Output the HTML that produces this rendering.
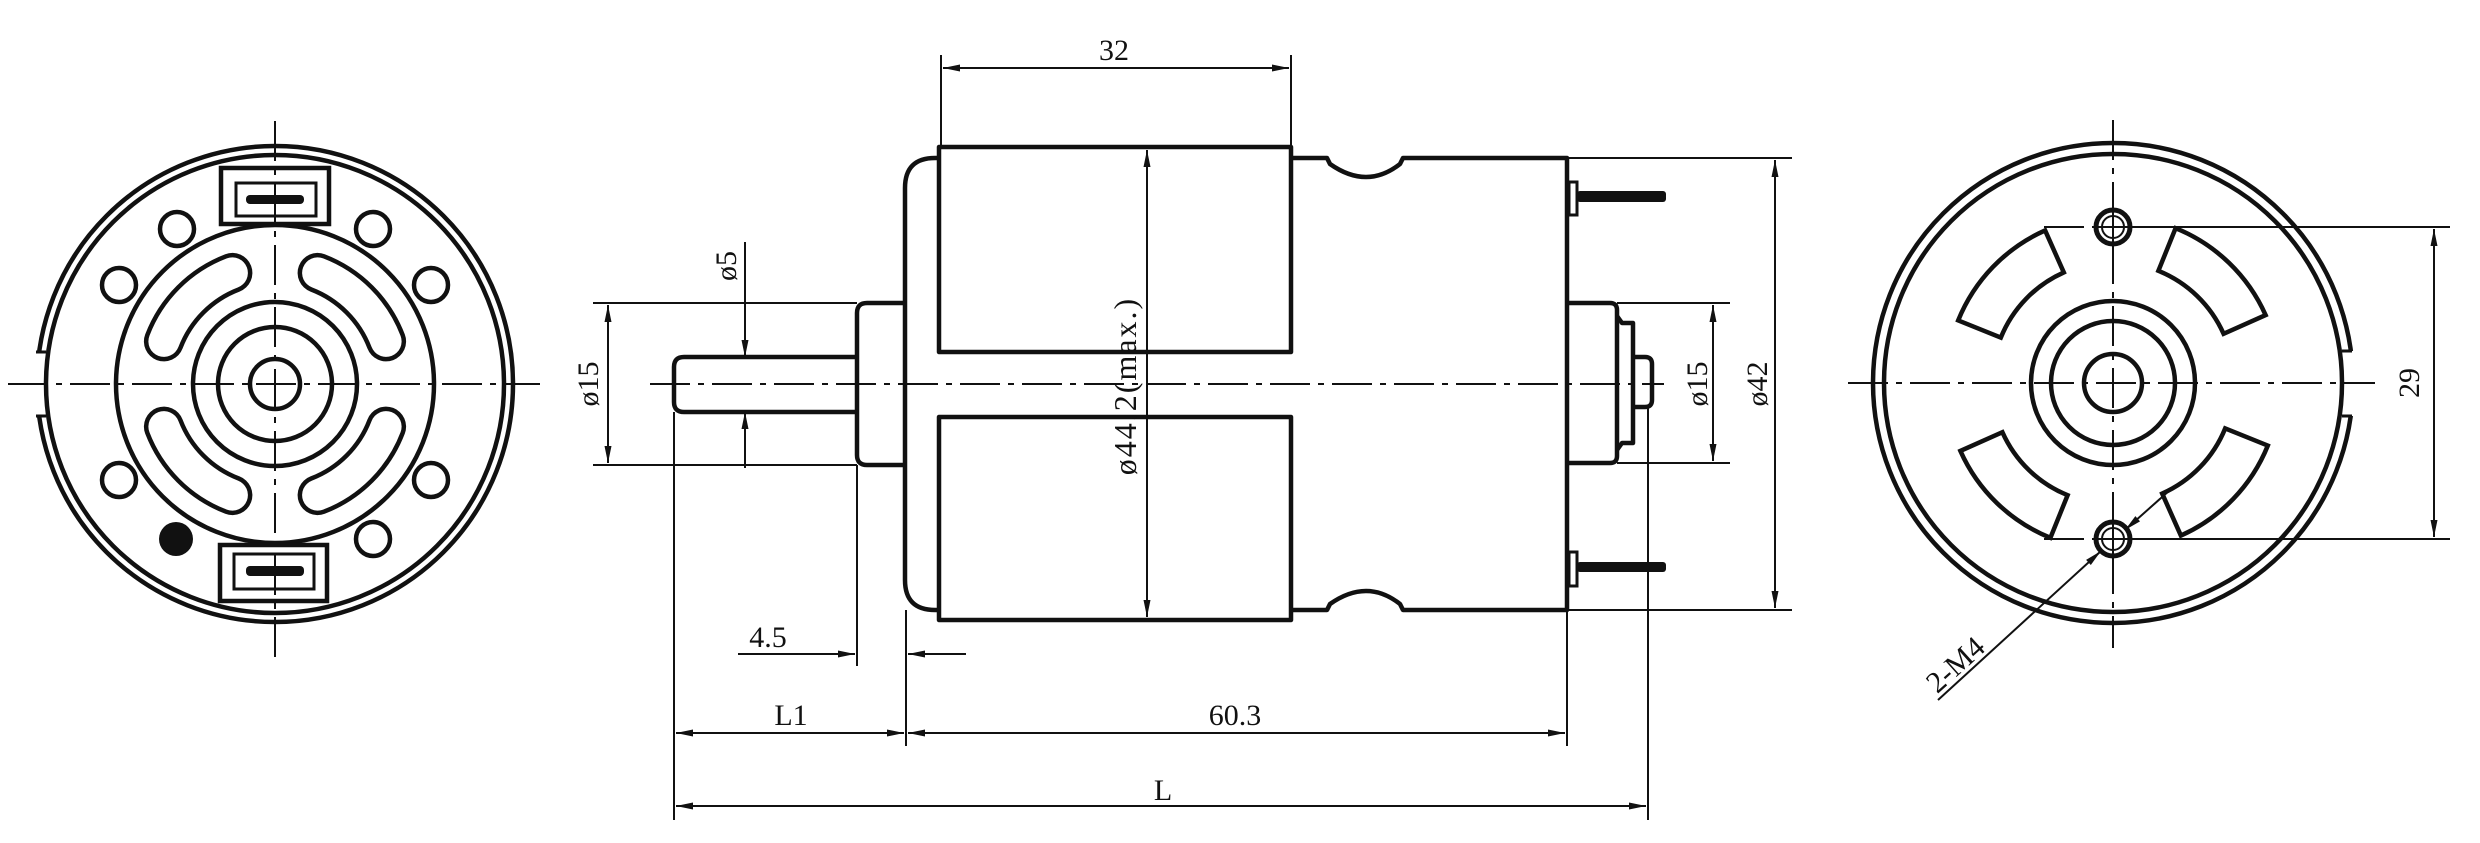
<!DOCTYPE html>
<html><head><meta charset="utf-8"><style>
html,body{margin:0;padding:0;background:#fff;}
svg{display:block;}
text{font-family:"Liberation Serif",serif;font-size:30px;fill:#111;}
</style></head><body>
<svg width="2480" height="843" viewBox="0 0 2480 843" xmlns="http://www.w3.org/2000/svg">
<defs>
<marker id="a" markerUnits="userSpaceOnUse" markerWidth="20" markerHeight="10" refX="0" refY="0" viewBox="-18 -5 20 10" orient="auto-start-reverse" overflow="visible">
<path d="M0,0 L-17,-3.5 L-17,3.5 Z" fill="#111"/>
</marker>
</defs>
<rect width="2480" height="843" fill="#fff"/>

<!-- ============ LEFT VIEW ============ -->
<g fill="none" stroke="#111" stroke-width="4.5">
<circle cx="275" cy="384" r="238"/>
<circle cx="275" cy="384" r="229"/>
</g>
<rect x="30" y="352" width="12" height="64" fill="#fff"/>
<g stroke="#111" stroke-width="3"><line x1="36" y1="352" x2="46" y2="352"/><line x1="36" y1="416" x2="46" y2="416"/></g>
<g fill="none" stroke="#111" stroke-width="4.5">
<circle cx="275" cy="384" r="159"/>
<circle cx="275" cy="384" r="82"/>
<circle cx="275" cy="384" r="57"/>
<circle cx="275" cy="384" r="25"/>
<circle cx="177" cy="229" r="17"/><circle cx="373" cy="229" r="17"/>
<circle cx="119" cy="285" r="17"/><circle cx="431" cy="285" r="17"/>
<circle cx="119" cy="480" r="17"/><circle cx="431" cy="480" r="17"/>
<circle cx="373" cy="539" r="17"/>
</g>
<circle cx="176" cy="539" r="17" fill="#111"/>
<g transform="translate(275,384)">
 <g id="slot">
 <path d="M-111.1,-42.6 A119,119 0 0 1 -42.6,-111.1" fill="none" stroke="#111" stroke-width="40" stroke-linecap="round"/>
 <path d="M-111.1,-42.6 A119,119 0 0 1 -42.6,-111.1" fill="none" stroke="#fff" stroke-width="31" stroke-linecap="round"/>
 </g>
 <use href="#slot" transform="rotate(90)"/>
 <use href="#slot" transform="rotate(180)"/>
 <use href="#slot" transform="rotate(270)"/>
</g>
<rect x="221" y="168" width="108" height="56" fill="#fff" stroke="#111" stroke-width="4.5"/>
<rect x="236" y="183" width="80" height="33" fill="none" stroke="#111" stroke-width="3"/>
<rect x="246" y="195" width="58" height="9" rx="4" fill="#111"/>
<rect x="220" y="545" width="107" height="56" fill="#fff" stroke="#111" stroke-width="4.5"/>
<rect x="234" y="554" width="80" height="35" fill="none" stroke="#111" stroke-width="3"/>
<rect x="246" y="566" width="58" height="10" rx="4" fill="#111"/>
<g stroke="#111" stroke-width="2" stroke-dasharray="40 8 6 8">
<line x1="8" y1="384" x2="540" y2="384"/>
<line x1="275" y1="121" x2="275" y2="657"/>
</g>

<!-- ============ MIDDLE VIEW ============ -->
<g fill="none" stroke="#111" stroke-width="4.5" stroke-linejoin="round">
<path d="M857,357 L684,357 Q674,357 674,367 L674,402 Q674,412 684,412 L857,412"/>
<path d="M906,303 L867,303 Q857,303 857,313 L857,455 Q857,465 867,465 L906,465"/>
<path d="M939,158 L935,158 Q905,158 905,188 L905,580 Q905,610 935,610 L939,610"/>
<rect x="939" y="147" width="352" height="205"/>
<rect x="939" y="417" width="352" height="203"/>
<path d="M1291,158 L1327,158 L1330,164 Q1367,190 1400,164 L1403,158 L1567,158 L1567,610 L1403,610 L1400,604 Q1367,578 1330,604 L1327,610 L1291,610"/>
<path d="M1567,303 L1610,303 Q1617,303 1617,310 L1617,456 Q1617,463 1610,463 L1567,463"/>
<path d="M1617,316 L1622,323 L1633,323 L1633,443 L1622,443 L1617,450"/>
<path d="M1633,357 L1645,357 Q1652,357 1652,364 L1652,400 Q1652,407 1645,407 L1633,407"/>
</g>
<g stroke="#111" stroke-width="3" fill="#fff"><rect x="1569" y="182" width="8" height="33"/><rect x="1569" y="552" width="8" height="34"/></g>
<g fill="#111"><rect x="1577" y="191" width="89" height="11" rx="3"/><rect x="1577" y="562" width="89" height="10" rx="3"/></g>
<g stroke="#111" stroke-width="2" stroke-dasharray="40 8 6 8"><line x1="650" y1="384" x2="1664" y2="384"/></g>

<g stroke="#111" stroke-width="2" fill="none">
<line x1="941" y1="55" x2="941" y2="147"/><line x1="1291" y1="55" x2="1291" y2="147"/>
<line x1="943" y1="68" x2="1289" y2="68" marker-start="url(#a)" marker-end="url(#a)"/>
<line x1="1147" y1="150" x2="1147" y2="617" marker-start="url(#a)" marker-end="url(#a)"/>
<line x1="745" y1="242" x2="745" y2="357" marker-end="url(#a)"/>
<line x1="745" y1="468" x2="745" y2="412" marker-end="url(#a)"/>
<line x1="593" y1="303" x2="857" y2="303"/><line x1="593" y1="465" x2="857" y2="465"/>
<line x1="608" y1="305" x2="608" y2="463" marker-start="url(#a)" marker-end="url(#a)"/>
<line x1="1617" y1="303" x2="1730" y2="303"/><line x1="1617" y1="463" x2="1730" y2="463"/>
<line x1="1713" y1="305" x2="1713" y2="461" marker-start="url(#a)" marker-end="url(#a)"/>
<line x1="1567" y1="158" x2="1792" y2="158"/><line x1="1567" y1="610" x2="1792" y2="610"/>
<line x1="1775" y1="160" x2="1775" y2="608" marker-start="url(#a)" marker-end="url(#a)"/>
<line x1="857" y1="465" x2="857" y2="666"/>
<line x1="906" y1="610" x2="906" y2="746"/>
<line x1="738" y1="654" x2="855" y2="654" marker-end="url(#a)"/>
<line x1="966" y1="654" x2="908" y2="654" marker-end="url(#a)"/>
<line x1="674" y1="412" x2="674" y2="820"/>
<line x1="676" y1="733" x2="904" y2="733" marker-start="url(#a)" marker-end="url(#a)"/>
<line x1="1567" y1="610" x2="1567" y2="746"/>
<line x1="908" y1="733" x2="1565" y2="733" marker-start="url(#a)" marker-end="url(#a)"/>
<line x1="1648" y1="407" x2="1648" y2="820"/>
<line x1="676" y1="806" x2="1646" y2="806" marker-start="url(#a)" marker-end="url(#a)"/>
</g>
<text x="1114" y="60" text-anchor="middle">32</text>
<text transform="translate(736,266) rotate(-90)" text-anchor="middle">ø5</text>
<text transform="translate(598,384) rotate(-90)" text-anchor="middle">ø15</text>
<text transform="translate(1136,386) rotate(-90)" text-anchor="middle" style="font-size:32px;letter-spacing:2px">ø44.2(max.)</text>
<text transform="translate(1707,384) rotate(-90)" text-anchor="middle">ø15</text>
<text transform="translate(1767,384) rotate(-90)" text-anchor="middle">ø42</text>
<text x="768" y="647" text-anchor="middle">4.5</text>
<text x="791" y="725" text-anchor="middle">L1</text>
<text x="1235" y="725" text-anchor="middle">60.3</text>
<text x="1163" y="800" text-anchor="middle">L</text>

<!-- ============ RIGHT VIEW ============ -->
<g fill="none" stroke="#111" stroke-width="4.5">
<circle cx="2113" cy="383" r="240"/>
<circle cx="2113" cy="383" r="229"/>
</g>
<rect x="2348" y="351" width="12" height="65" fill="#fff"/>
<g stroke="#111" stroke-width="3"><line x1="2342" y1="351" x2="2352" y2="351"/><line x1="2342" y1="416" x2="2352" y2="416"/></g>
<g fill="none" stroke="#111" stroke-width="4.5">
<circle cx="2113" cy="383" r="82"/>
<circle cx="2113" cy="383" r="62"/>
<circle cx="2113" cy="383" r="29"/>
</g>
<g transform="translate(2113,383)" fill="none" stroke="#111" stroke-width="4.5" stroke-linejoin="miter">
 <path id="sec" d="M-154.8,-62.6 A167,167 0 0 1 -67.9,-152.6 L-49.2,-110.6 A121,121 0 0 0 -112.2,-45.4 Z"/>
 <use href="#sec" transform="rotate(90)"/>
 <use href="#sec" transform="rotate(180)"/>
 <use href="#sec" transform="rotate(270)"/>
</g>
<g stroke="#111" stroke-width="2" stroke-dasharray="40 8 6 8">
<line x1="1848" y1="383" x2="2375" y2="383"/>
<line x1="2113" y1="120" x2="2113" y2="648"/>
<line x1="2044" y1="227" x2="2100" y2="227"/>
<line x1="2044" y1="539" x2="2100" y2="539"/>
</g>
<g fill="#fff" stroke="#111">
<circle cx="2113" cy="227" r="17" stroke-width="5"/>
<circle cx="2113" cy="539" r="17" stroke-width="5"/>
</g>
<g fill="none" stroke="#111" stroke-width="2">
<circle cx="2113" cy="227" r="11"/><circle cx="2113" cy="539" r="11"/>
<line x1="2113" y1="210" x2="2113" y2="244"/><line x1="2096" y1="227" x2="2130" y2="227"/>
<line x1="2113" y1="522" x2="2113" y2="556"/><line x1="2096" y1="539" x2="2130" y2="539"/>
<line x1="2130" y1="227" x2="2450" y2="227"/>
<line x1="2130" y1="539" x2="2450" y2="539"/>
<line x1="2434" y1="229" x2="2434" y2="537" marker-start="url(#a)" marker-end="url(#a)"/>
<line x1="1938" y1="700" x2="2101" y2="551" marker-end="url(#a)"/>
<line x1="2170" y1="490" x2="2125" y2="530" marker-end="url(#a)"/>
</g>
<text transform="translate(2419,383) rotate(-90)" text-anchor="middle">29</text>
<text transform="translate(1962,672) rotate(-42)" text-anchor="middle">2-M4</text>
</svg>
</body></html>
